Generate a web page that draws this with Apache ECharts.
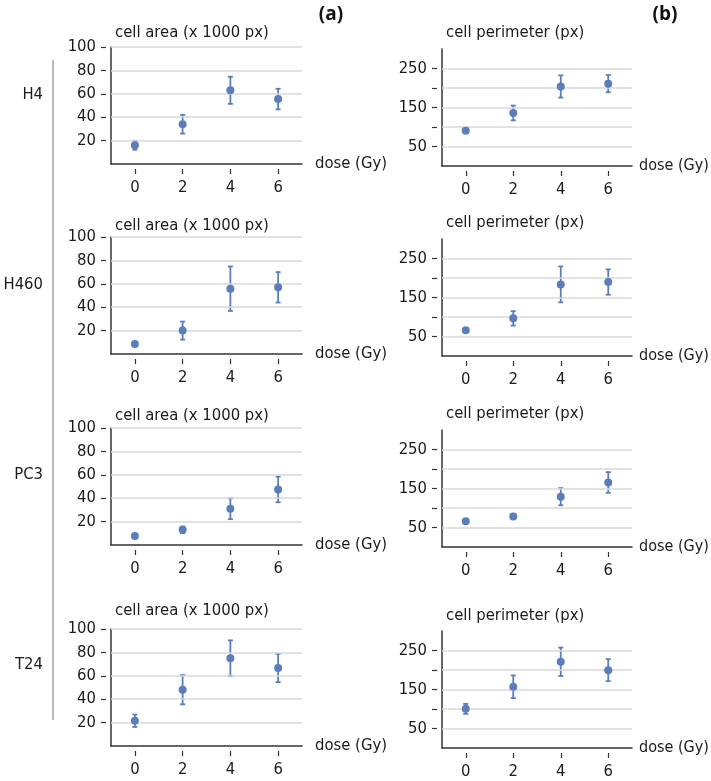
<!DOCTYPE html>
<html>
<head>
<meta charset="utf-8">
<script src="https://cdn.jsdelivr.net/npm/echarts@6/dist/echarts.min.js"></script>
<style>
html,body{margin:0;padding:0;background:#fff;}
#c{width:711px;height:781px;}
</style>
</head>
<body>
<div id="c"></div>
<script>
// ---- data ----
const cellLines = ['H4', 'H460', 'PC3', 'T24'];
const doses = [0, 2, 4, 6];
const areaTicks = [20, 40, 60, 80, 100];
const perimTicks = [50, 100, 150, 200, 250];
const perimLabels = [50, 150, 250];

const areaH4 = [16, 34, 63, 55.5];
const areaH4Err = [3.8, 8, 11.6, 8.8];
const perimH4 = [90.5, 136, 204, 211];
const perimH4Err = [5, 19, 28.5, 22];

const areaH460 = [8.5, 20, 55.8, 57];
const areaH460Err = [1.5, 7.7, 19, 13];
const perimH460 = [66, 96.5, 183.6, 189.6];
const perimH460Err = [3, 18.5, 46, 32.5];

const areaPC3 = [7.6, 13, 31, 47.5];
const areaPC3Err = [1.5, 2.8, 8.9, 11];
const perimPC3 = [66, 78.5, 129, 165.5];
const perimPC3Err = [3, 6.5, 22, 26.5];

const areaT24 = [21.6, 48.1, 75, 66.7];
const areaT24Err = [5.3, 12.5, 15.3, 12.1];
const perimT24 = [100.4, 157, 221, 199.6];
const perimT24Err = [12.8, 29, 36.5, 28.2];

const areaTitle = 'cell area (x 1000 px)';
const perimTitle = 'cell perimeter (px)';
const doseLabel = 'dose (Gy)';

// ---- layout ----
const FONT = "'DejaVu Sans Condensed','Liberation Sans Narrow','Roboto',sans-serif";
const FS = 16.5;
const TXT = '#1a1a1a';
const AX = '#333';
const GRIDC = '#d9d9d9';
const PT = '#5a7dbb';

const areaMeans = [areaH4, areaH460, areaPC3, areaT24];
const areaErrs = [areaH4Err, areaH460Err, areaPC3Err, areaT24Err];
const perimMeans = [perimH4, perimH460, perimPC3, perimT24];
const perimErrs = [perimH4Err, perimH460Err, perimPC3Err, perimT24Err];

const areaTops = [47, 237, 428, 629];
const perimTops = [49, 239, 430, 631];
const gridH = 117;
const areaTitleBase = [39, 232, 422, 617];
const perimTitleBase = [39, 229, 420, 622];
const rowLabelY = [95, 285, 475, 665];

const grids = [], xAxes = [], yAxes = [], series = [], graphics = [];

function addPanel(left, width, top, ymax, ticks, labels, means, errs, nameGap, nameFs) {
  const g = grids.length;
  grids.push({left: left, top: top, width: width, height: gridH, containLabel: false, outerBoundsMode: 'none'});
  const xi = xAxes.length, yi = yAxes.length;
  xAxes.push({
    gridIndex: g, type: 'value', min: -1, max: 7, position: 'bottom',
    axisLine: {show: true, onZero: false, lineStyle: {color: AX, width: 1.5}},
    axisTick: {show: false}, axisLabel: {show: false}, splitLine: {show: false},
    name: doseLabel, nameLocation: 'end', nameGap: nameGap,
    nameTextStyle: {fontFamily: FONT, fontSize: nameFs, color: TXT, padding: [0, 0, 4, 0]}
  });
  xAxes.push({
    gridIndex: g, type: 'value', min: -1, max: 7, position: 'bottom', offset: 5,
    axisLine: {show: false, onZero: false},
    axisTick: {show: true, length: 5, customValues: doses, lineStyle: {color: AX, width: 1.2}},
    axisLabel: {show: true, customValues: doses, margin: 10, fontFamily: FONT, fontSize: FS, color: TXT},
    splitLine: {show: false}
  });
  yAxes.push({
    gridIndex: g, type: 'value', min: 0, max: ymax, position: 'left',
    axisLine: {show: true, onZero: false, lineStyle: {color: AX, width: 1.5}},
    axisTick: {show: false}, axisLabel: {show: false}, splitLine: {show: false}
  });
  yAxes.push({
    gridIndex: g, type: 'value', min: 0, max: ymax, position: 'left', offset: 5,
    axisLine: {show: false, onZero: false},
    axisTick: {show: true, length: 5, customValues: ticks, lineStyle: {color: AX, width: 1.2}},
    axisLabel: {show: true, customValues: labels, margin: 10, fontFamily: FONT, fontSize: FS, color: TXT},
    splitLine: {show: false}
  });
  series.push({
    type: 'line', xAxisIndex: xi, yAxisIndex: yi, data: [], z: 1, silent: true,
    markLine: {
      silent: true, symbol: 'none', animation: false, label: {show: false},
      lineStyle: {color: GRIDC, width: 1.5, type: 'solid'},
      data: ticks.map(t => ({yAxis: t}))
    }
  });
  series.push({
    type: 'custom', xAxisIndex: xi, yAxisIndex: yi, z: 4, silent: true,
    data: doses.map((d, i) => [d, means[i] - errs[i], means[i] + errs[i]]),
    encode: {x: 0, y: [1, 2]},
    renderItem: function (params, api) {
      const x = api.value(0);
      const lo = api.coord([x, api.value(1)]);
      const hi = api.coord([x, api.value(2)]);
      const st = {stroke: PT, lineWidth: 1.8};
      const cw = 2.5;
      return {type: 'group', children: [
        {type: 'line', shape: {x1: lo[0], y1: lo[1], x2: hi[0], y2: hi[1]}, style: st},
        {type: 'line', shape: {x1: lo[0] - cw, y1: lo[1], x2: lo[0] + cw, y2: lo[1]}, style: st},
        {type: 'line', shape: {x1: hi[0] - cw, y1: hi[1], x2: hi[0] + cw, y2: hi[1]}, style: st}
      ]};
    }
  });
  series.push({
    type: 'scatter', xAxisIndex: xi, yAxisIndex: yi, z: 5, silent: true,
    symbol: 'circle', symbolSize: 8, itemStyle: {color: PT, opacity: 1},
    data: doses.map((d, i) => [d, means[i]])
  });
}

for (let r = 0; r < cellLines.length; r++) {
  addPanel(111, 191, areaTops[r], 100, areaTicks, areaTicks, areaMeans[r], areaErrs[r], 13, FS);
  addPanel(442, 190, perimTops[r], 300, perimTicks, perimLabels, perimMeans[r], perimErrs[r], 7, 16);
  graphics.push({type: 'text', x: 115, y: areaTitleBase[r] + 2, style: {text: areaTitle, font: FS + 'px ' + FONT, fill: TXT, textVerticalAlign: 'bottom'}});
  graphics.push({type: 'text', x: 446, y: perimTitleBase[r] + 2, style: {text: perimTitle, font: FS + 'px ' + FONT, fill: TXT, textVerticalAlign: 'bottom'}});
  graphics.push({type: 'text', x: 43, y: rowLabelY[r], style: {text: cellLines[r], font: FS + 'px ' + FONT, fill: TXT, textAlign: 'right', textVerticalAlign: 'middle'}});
}
graphics.push({type: 'line', shape: {x1: 53, y1: 60, x2: 53, y2: 720}, style: {stroke: '#777', lineWidth: 1}});
graphics.push({type: 'text', x: 331, y: 15, style: {text: '(a)', font: 'bold 19px "Open Sans",sans-serif', fill: '#111', textAlign: 'center', textVerticalAlign: 'middle'}});
graphics.push({type: 'text', x: 665, y: 15, style: {text: '(b)', font: 'bold 19px "Open Sans",sans-serif', fill: '#111', textAlign: 'center', textVerticalAlign: 'middle'}});

const chart = echarts.init(document.getElementById('c'), null, {renderer: 'canvas'});
chart.setOption({
  animation: false,
  backgroundColor: '#fff',
  grid: grids,
  xAxis: xAxes,
  yAxis: yAxes,
  series: series,
  graphic: graphics
});
</script>
</body>
</html>
